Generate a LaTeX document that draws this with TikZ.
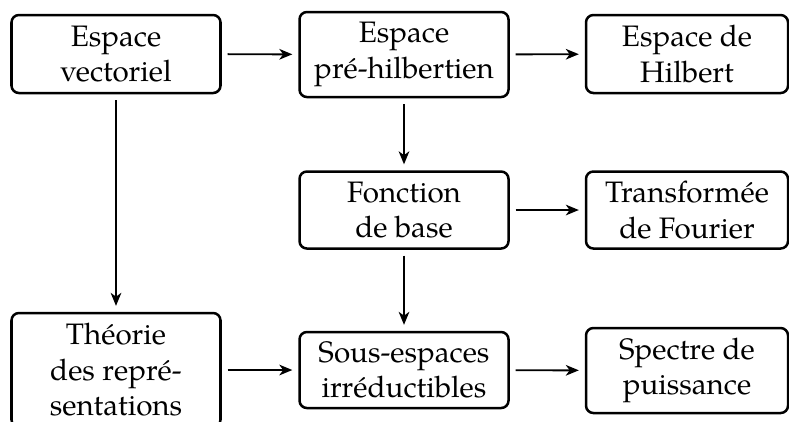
\documentclass[tikz,border=0pt]{standalone}
\usepackage{fontspec}
\setmainfont{TeX Gyre Pagella}
\usetikzlibrary{arrows.meta}
\tikzset{
  box/.style={draw, line width=0.85pt, rounded corners=2.5pt, align=center,
    inner sep=0pt, font=\fontsize{10}{12}\selectfont},
  wide/.style={minimum width=70.64pt},
  narrow/.style={minimum width=68.28pt},
  conn/.style={-{Stealth[length=4.4pt,width=3.6pt,inset=1.3pt]}, line width=0.65pt,
    shorten <=2pt, shorten >=2pt}
}
\begin{document}
\begin{tikzpicture}[x=0.338pt, y=-0.338pt]
\useasboundingbox (0,0) rectangle (789,421);
% row 1
\node[box, wide, minimum height=26.36pt] (A) at (116,54) {Espace\\vectoriel};
\node[box, wide, minimum height=28.73pt] (B) at (404,54.5) {Espace\\pré-hilbertien};
\node[box, narrow, minimum height=26.36pt] (C) at (687,54) {Espace de\\Hilbert};
% row 2
\node[box, wide, minimum height=26.03pt] (D) at (404,210) {Fonction\\de base};
\node[box, narrow, minimum height=26.03pt] (E) at (687,210) {Transformée\\de Fourier};
% row 3
\node[box, wide, minimum height=38.53pt] (F) at (116,370) {Théorie\\des repré-\\sentations};
\node[box, wide, minimum height=25.69pt] (G) at (404,370) {Sous-espaces\\irréductibles};
\node[box, narrow, minimum height=28.73pt] (H) at (687,370.5) {Spectre de\\puissance};
% connectors
\draw[conn] (A) -- (B);
\draw[conn] (B) -- (C);
\draw[conn] (A) -- (F);
\draw[conn] (B) -- (D);
\draw[conn] (D) -- (E);
\draw[conn] (D) -- (G);
\draw[conn] (F) -- (G);
\draw[conn] (G) -- (H);
\end{tikzpicture}
\end{document}
